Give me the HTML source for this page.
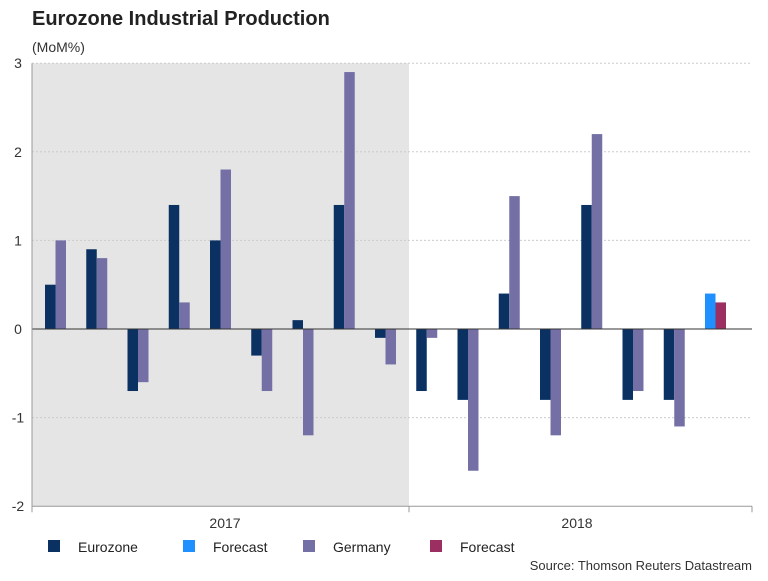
<!DOCTYPE html>
<html><head><meta charset="utf-8"><style>
body{margin:0;background:#fff;font-family:"Liberation Sans",sans-serif}
svg text{font-family:"Liberation Sans",sans-serif}
</style></head><body>
<svg id="c" width="768" height="576">
<text x="32" y="25" font-size="20" font-weight="bold" fill="#222">Eurozone Industrial Production</text>
<text x="32" y="52" font-size="14" fill="#333">(MoM%)</text>
<g id="plot"></g>
<text x="752" y="570" font-size="13" fill="#333" text-anchor="end">Source: Thomson Reuters Datastream</text>
</svg>
<script>
const eurozone=[0.5,0.9,-0.7,1.4,1.0,-0.3,0.1,1.4,-0.1,-0.7,-0.8,0.4,-0.8,1.4,-0.8,-0.8];
const germany=[1.0,0.8,-0.6,0.3,1.8,-0.7,-1.2,2.9,-0.4,-0.1,-1.6,1.5,-1.2,2.2,-0.7,-1.1];
const forecastEZ=[0.4];
const forecastDE=[0.3];
const yTicks=[-2,-1,0,1,2,3];
const years=["2017","2018"];
const legendLabels=["Eurozone","Forecast","Germany","Forecast"];
const legendColors=["#0a3161","#1e90ff","#7470a6","#9b2f61"];

const ns="http://www.w3.org/2000/svg";
const g=document.getElementById('plot');
const x0=32,x1=752,xb=409,band=41.25,bw=10.5;
const y=v=>329-v*88.6;
const xc=i=>55.5+band*i;
function mk(t,a){const e=document.createElementNS(ns,t);for(const k in a)e.setAttribute(k,a[k]);g.appendChild(e);return e;}
let r=mk('rect',{x:x0,y:y(3),width:xb-x0,height:y(-2)-y(3),fill:'#e5e5e5'});


yTicks.forEach(t=>{
 if(t!==0&&t!==-2){let l=mk('line',{x1:x0,x2:x1,y1:y(t),y2:y(t),stroke:'#ccc','stroke-dasharray':'2,2'});
 
 }
 let tx=mk('text',{x:18,y:y(t)+5,'font-size':14,fill:'#333','text-anchor':'middle'});tx.textContent=t;
 
 
});
function bar(v,xl,col,name){
 let b=mk('rect',{x:xl,y:Math.min(y(v),y(0)),width:bw,height:Math.abs(y(v)-y(0)),fill:col});
 
 
}
eurozone.forEach((v,i)=>bar(v,xc(i)-bw,legendColors[0],'bar-eurozone'));
germany.forEach((v,i)=>bar(v,xc(i),legendColors[2],'bar-germany'));
forecastEZ.forEach((v,i)=>bar(v,xc(eurozone.length+i)-bw,legendColors[1],'bar-forecast-eurozone'));
forecastDE.forEach((v,i)=>bar(v,xc(eurozone.length+i),legendColors[3],'bar-forecast-germany'));
let z=mk('line',{x1:x0,x2:x1,y1:y(0),y2:y(0),stroke:'#333','stroke-width':1});


let ax=mk('line',{x1:x0,x2:x1,y1:y(-2),y2:y(-2),stroke:'#999'});


let yax=mk('line',{x1:x0,x2:x0,y1:y(3),y2:y(-2),stroke:'#999'});


[x0,xb,x1].forEach(xx=>{let t=mk('line',{x1:xx,x2:xx,y1:y(-2),y2:y(-2)+6,stroke:'#999'});
 
 });
years.forEach((yr,i)=>{const cx=i===0?225:577;
 let t=mk('text',{x:cx,y:528,'font-size':14,fill:'#333','text-anchor':'middle'});t.textContent=yr;
 
 });
const lx=[48,183,303,430];
legendLabels.forEach((lab,i)=>{
 let s=mk('rect',{x:lx[i],y:540,width:12,height:12,fill:legendColors[i]});
 
 
 let t=mk('text',{x:lx[i]+30,y:552,'font-size':14,fill:'#222'});t.textContent=lab;
 
 
});
</script>
</body></html>
